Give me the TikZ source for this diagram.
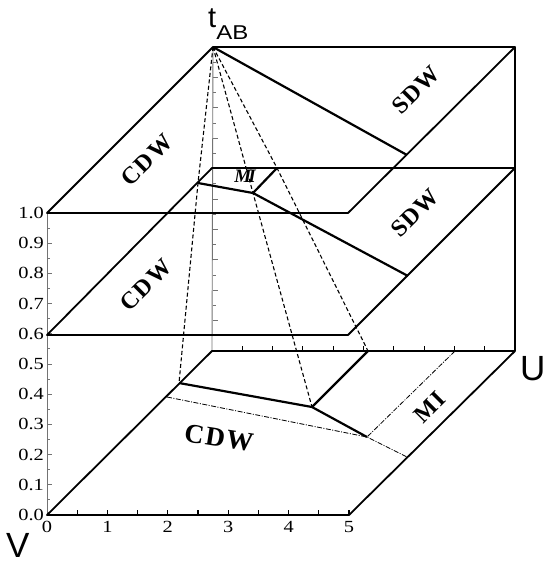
\documentclass[tikz,border=0pt]{standalone}
\usepackage{graphicx}
\usepackage{fontspec}
\setmainfont{Liberation Serif}
\newfontfamily\arialfont{Liberation Sans}
\newfontfamily\spacedbold[LetterSpace=6]{Liberation Serif Bold}
\begin{document}
\begin{tikzpicture}[x=1pt,y=-1pt,line join=round,
  edge/.style={line width=1.8pt},
  phase/.style={line width=2.2pt},
  guide/.style={line width=1.1pt, dash pattern=on 4pt off 2.5pt},
  fine/.style={line width=0.8pt, dash pattern=on 5pt off 1.5pt on 1pt off 1.5pt},
  axisline/.style={line width=0.9pt, black!55},
  ticklbl/.style={font=\fontsize{17}{17}\selectfont, inner sep=0pt},
  phaselbl/.style={font=\fontsize{24}{24}\selectfont\spacedbold, inner sep=0pt},
  biglbl/.style={font=\arialfont\fontsize{35}{35}\selectfont, inner sep=0pt}]
\useasboundingbox (0,0) rectangle (546,566);
% top plane
\coordinate (T0) at (213,47);
\coordinate (T1) at (515,47);
\coordinate (T2) at (348,213);
\coordinate (T3) at (47,213);
\coordinate (TB) at (407,155);
% middle plane
\coordinate (M0) at (212,168);
\coordinate (M1) at (515,168);
\coordinate (M2) at (348,335);
\coordinate (M3) at (47,335);
\coordinate (MP) at (198,183);
\coordinate (MQ) at (253,193);
\coordinate (MR) at (277,168);
\coordinate (MS) at (408,276);
% bottom plane
\coordinate (B0) at (212,351);
\coordinate (B1) at (515,351);
\coordinate (B2) at (349,515);
\coordinate (B3) at (47,515);
\coordinate (BK) at (179,383);
\coordinate (BL) at (167,397);
\coordinate (BJ) at (312,407);
\coordinate (BR) at (368,351);
\coordinate (BM) at (367,437);
\coordinate (BE) at (407,457);
\coordinate (BD) at (455,351);
% vertical axes
\draw[axisline] (B3) -- (T3);
\draw[axisline] (B0) -- (T0);
\foreach \i in {0,...,20}{
  \pgfmathsetmacro{\len}{ifthenelse(mod(\i,2)==0,5,3)}
  \draw[axisline] (47,{515-\i*15.1}) -- ++(\len,0);
}
\foreach \i in {1,...,19}{
  \pgfmathsetmacro{\len}{ifthenelse(mod(\i,2)==0,5,3)}
  \draw[axisline] (213,{351-\i*15.2}) -- ++(\len,0);
}
\draw[line width=1.1pt] (T1) -- (B1);
% horizontal axis ticks
\foreach \i in {1,...,10}{
  \draw[line width=1.1pt] ({47+\i*30.2},515) -- ++(0,-5);
  \draw[line width=1.1pt] ({212+\i*30.3},351) -- ++(0,-5);
}
% planes
\draw[edge] (T0) -- (T1) -- (T2) -- (T3) -- cycle;
\draw[edge] (M0) -- (M1) -- (M2) -- (M3) -- cycle;
\draw[edge] (B0) -- (B1) -- (B2) -- (B3) -- cycle;
\draw[line width=2.3pt] (B3) -- (B2);
% guides
\draw[guide] (T0) -- (MP) -- (BK);
\draw[guide] (T0) -- (MQ) -- (BJ);
\draw[guide] (T0) -- (MR) -- (BR);
% phase boundaries
\draw[phase] (T0) -- (TB);
\draw[phase] (MP) -- (MQ) -- (MS);
\draw[phase] (MQ) -- (MR);
\draw[phase] (BK) -- (BJ) -- (BM);
\draw[phase] (BJ) -- (BR);
\draw[fine] (BL) -- (BM) -- (BE);
\draw[fine] (BD) -- (BM);
% tick labels
\foreach \i/\t in {0/0.0,1/0.1,2/0.2,3/0.3,4/0.4,5/0.5,6/0.6,7/0.7,8/0.8,9/0.9,10/1.0}{
  \node[ticklbl, anchor=east] (yl\i) at (44,{515-\i*30.2}) {\scalebox{1.2}[1]{\t}};
}
\foreach \i in {0,...,5}{
  \node[ticklbl, anchor=north] (xl\i) at ({47+\i*60.4},521) {\scalebox{1.2}[1]{\i}};
}
% axis names
\node[inner sep=0pt, anchor=base west] (tab) at (208,27) {\arialfont\fontsize{29}{29}\selectfont t\raisebox{-12pt}{\fontsize{20}{20}\selectfont\scalebox{1.2}[1]{AB}}};
\node[biglbl, anchor=base west] (ulbl) at (520,380) {U};
\node[biglbl, anchor=base west] (vlbl) at (6,557) {V};
% phase labels
\node[phaselbl, rotate=45] (cdwT) at (147,160) {CDW};
\node[phaselbl, rotate=45] (sdwT) at (416,90) {SDW};
\node[phaselbl, rotate=45] (cdwM) at (146,285) {CDW};
\node[phaselbl, rotate=45] (sdwM) at (415,213) {SDW};
\node[phaselbl, rotate=-9, font=\fontsize{27}{27}\selectfont\spacedbold] (cdwB) at (219,438) {CDW};
\node[phaselbl, rotate=45] (miB) at (430,407) {MI};
\node[inner sep=0pt, font=\fontsize{19}{19}\selectfont\bfseries\itshape] (miM) at (245,176) {M\kern-3pt I};
\end{tikzpicture}
\end{document}
